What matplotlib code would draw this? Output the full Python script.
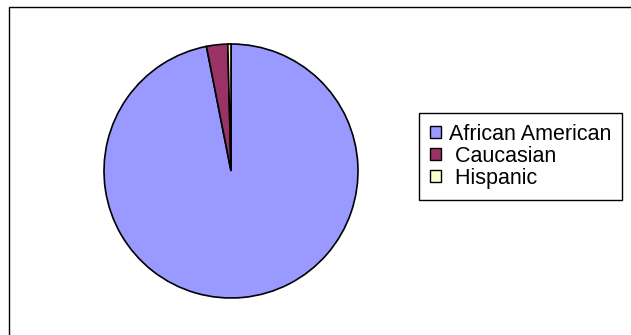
import matplotlib
matplotlib.use("Agg")
import matplotlib.pyplot as plt
from matplotlib.patches import Rectangle, Patch

categories = ["African American", " Caucasian", " Hispanic"]
shares = [96.9, 2.7, 0.4]
colors = ["#9999FF", "#993366", "#FFFFCC"]

W, H = 631, 335
fig = plt.figure(figsize=(W / 100, H / 100), dpi=100)
fig.patch.set_facecolor("white")

# chart-area border (open on the right and bottom edges)
fig.add_artist(Rectangle((8.5 / W, -0.05), 1.1, (H - 6.5) / H + 0.05,
                         transform=fig.transFigure, fill=False,
                         edgecolor="black", linewidth=1.0))

# pie placed by pixel centre / radius
cx, cy, r = 231, 171, 127
ax = fig.add_axes([(cx - r) / W, (H - cy - r) / H, 2 * r / W, 2 * r / H])
ax.pie(shares, colors=colors, startangle=90, counterclock=False,
       wedgeprops=dict(edgecolor="black", linewidth=1.2))
ax.set_xlim(-1, 1)
ax.set_ylim(-1, 1)
ax.set_aspect("auto")
ax.axis("off")

handles = [Patch(facecolor=c, edgecolor="black", linewidth=1.0) for c in colors]
leg = fig.legend(handles, categories, loc="upper left",
                 bbox_to_anchor=(419 / W, (H - 113) / H),
                 prop=dict(family="Liberation Sans", size=15.5),
                 frameon=True, fancybox=False, framealpha=1,
                 edgecolor="black", borderpad=0.5, labelspacing=0.05,
                 handlelength=0.5, handleheight=0.5, handletextpad=0.4,
                 borderaxespad=0)
leg.get_frame().set_linewidth(1.0)

fig.savefig("out.png", dpi=100)
